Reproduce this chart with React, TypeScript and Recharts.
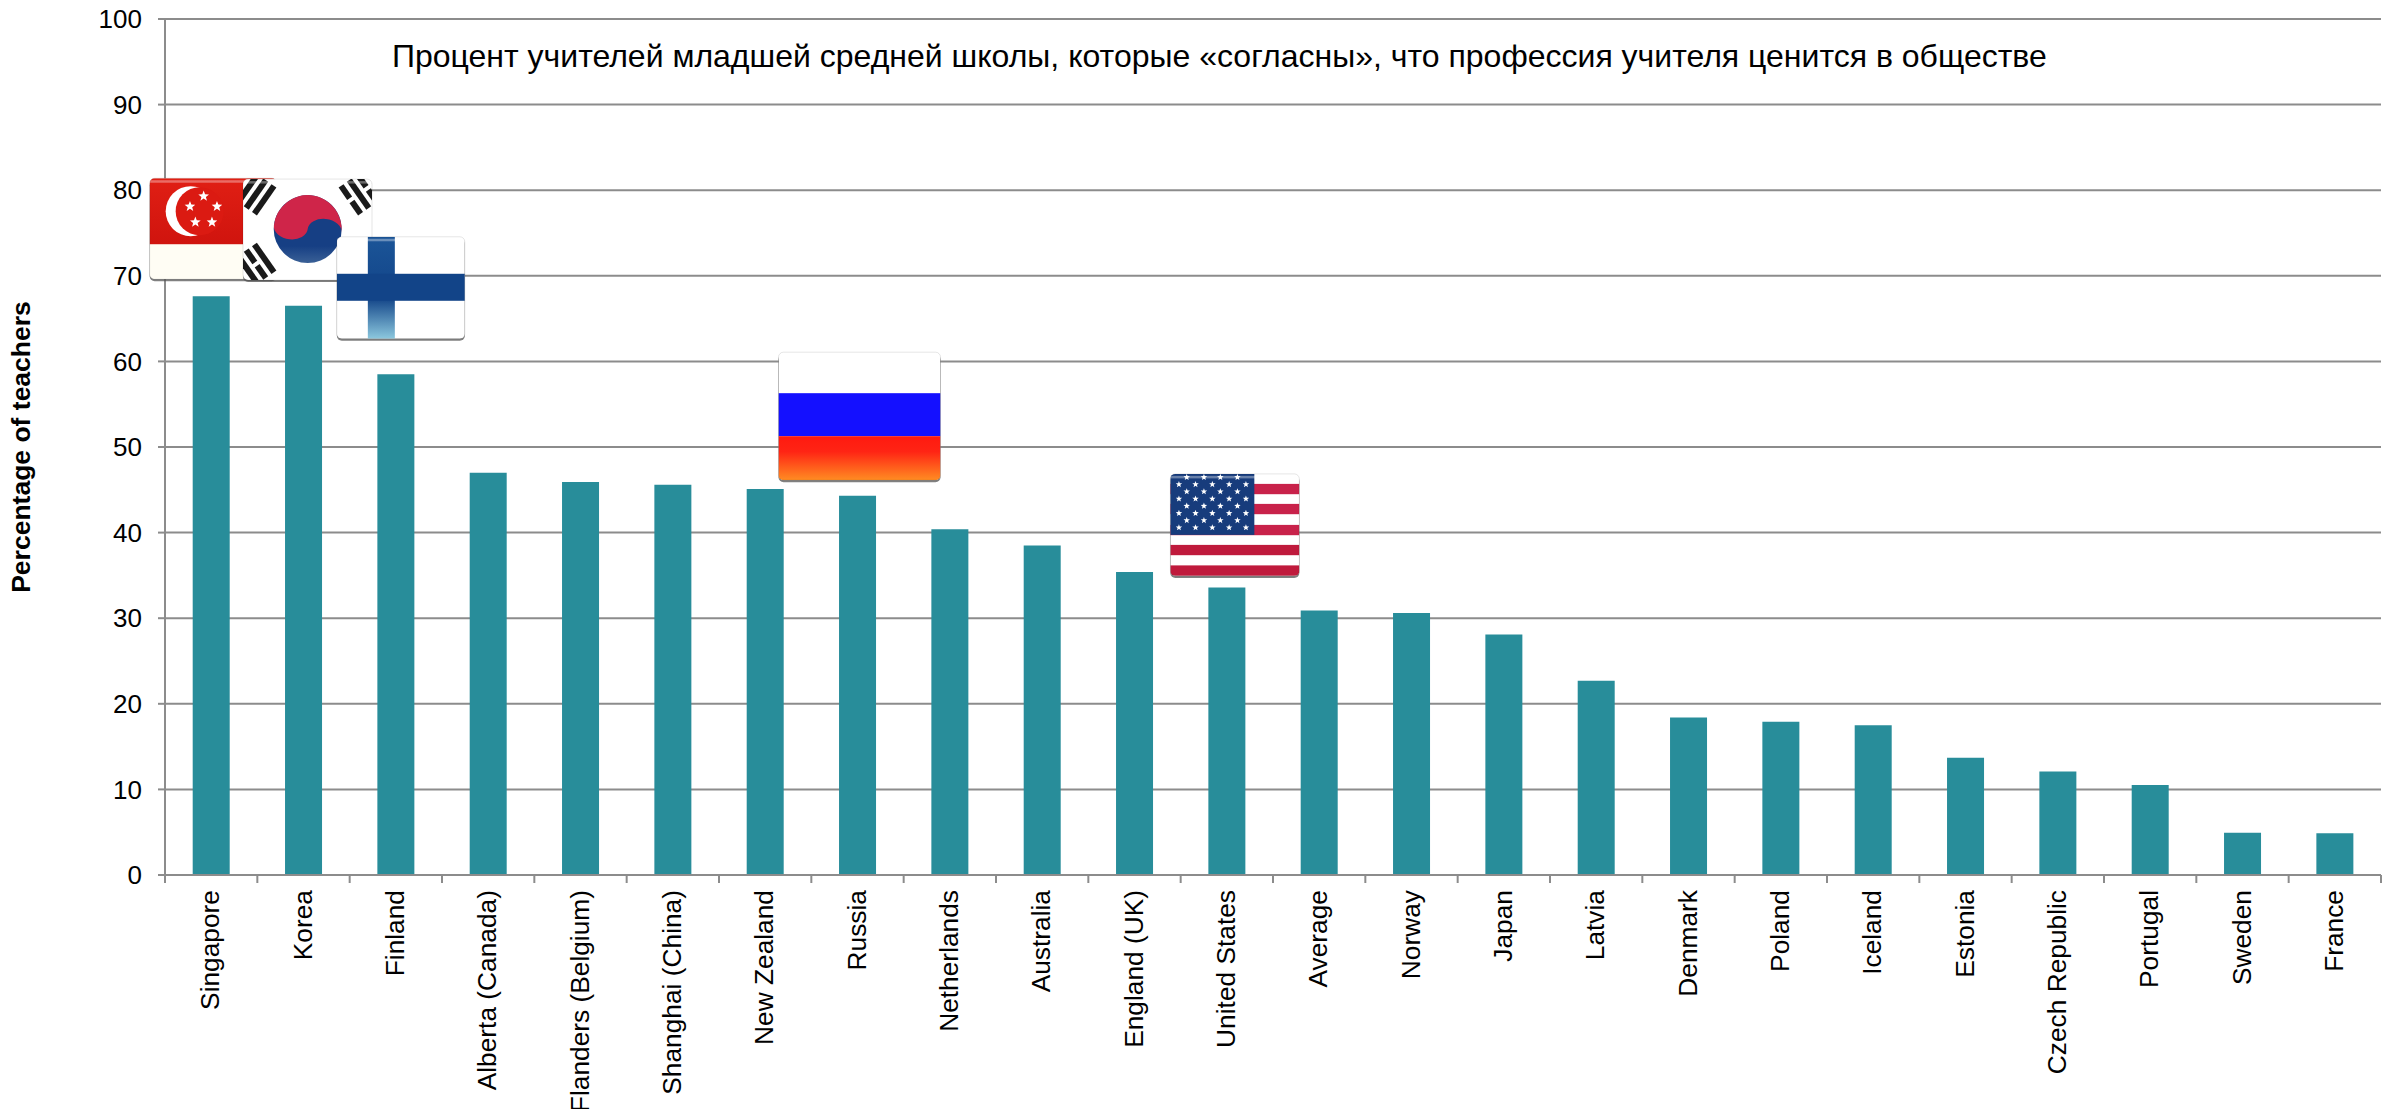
import React from "react";
import { BarChart, Bar, XAxis, YAxis, CartesianGrid, ReferenceDot, Label } from "recharts";

const CATEGORIES = ["Singapore","Korea","Finland","Alberta (Canada)","Flanders (Belgium)","Shanghai (China)","New Zealand","Russia","Netherlands","Australia","England (UK)","United States","Average","Norway","Japan","Latvia","Denmark","Poland","Iceland","Estonia","Czech Republic","Portugal","Sweden","France"];
const VALUES = [67.6,66.5,58.5,47.0,45.9,45.6,45.1,44.3,40.4,38.5,35.4,33.6,30.9,30.6,28.1,22.7,18.4,17.9,17.5,13.7,12.1,10.5,4.95,4.87];
const Y_TICKS = [0,10,20,30,40,50,60,70,80,90,100];
const TITLE = "Процент учителей младшей средней школы, которые «согласны», что профессия учителя ценится в обществе";
const Y_LABEL = "Percentage of teachers";

const FLAG_ANCHORS = [
  { country: "Singapore", y: 75.5 },
  { country: "Korea", y: 75.4 },
  { country: "Finland", y: 68.6 },
  { country: "Russia", y: 53.6 },
  { country: "United States", y: 40.9 },
];

const rows = CATEGORIES.map((name, i) => ({ name, value: VALUES[i] }));

const W = 2397, H = 1117;
const LEFT = 165, RIGHT = 16, TOP = 19, BOTTOM = 242;
const BAND = (W - LEFT - RIGHT) / CATEGORIES.length;
const AXIS = "#8c8c8c";
const FONT = "'Liberation Sans', Arial, sans-serif";

function starPoints(cx: number, cy: number, r: number) {
  const p: string[] = [];
  for (let i = 0; i < 10; i++) {
    const a = -Math.PI / 2 + (i * Math.PI) / 5;
    const rr = i % 2 ? r * 0.42 : r;
    p.push(`${(cx + rr * Math.cos(a)).toFixed(2)},${(cy + rr * Math.sin(a)).toFixed(2)}`);
  }
  return p.join(" ");
}

function Frame({ id, w, h, children }: any) {
  return (
    <g>
      <rect x={0} y={2} width={w} height={h} rx={5} fill="#555" opacity={0.75} />
      <clipPath id={id}><rect width={w} height={h} rx={5} /></clipPath>
      <g clipPath={`url(#${id})`}>
        {children}
        <rect x={0} y={2} width={w} height={2.5} fill="#fff" opacity={0.35} />
      </g>
      <rect x={0} y={0} width={w} height={h} rx={5} fill="none" stroke="#000" strokeOpacity={0.1} strokeWidth={1} />
    </g>
  );
}

function Singapore() {
  return (
    <Frame id="clipSg" w={127} h={101}>
      <defs>
        <linearGradient id="sgRed" x1="0" y1="0" x2="0" y2="1">
          <stop offset="0" stopColor="#E01F14" /><stop offset="1" stopColor="#D0140E" />
        </linearGradient>
      </defs>
      <rect width={127} height={101} fill="#FFFDF4" />
      <rect width={127} height={66} fill="url(#sgRed)" />
      <circle cx={41} cy={33} r={25} fill="#fff" />
      <circle cx={50} cy={33} r={24} fill="#DB1A12" />
      {[[54,18],[40.3,28.3],[67.3,28.3],[45.7,44],[62.3,44]].map(([x,y],i)=>(
        <polygon key={i} points={starPoints(x,y,5.6)} fill="#fff" />
      ))}
    </Frame>
  );
}

function Trigram({ x, y, rot, breaks }: any) {
  const t = 6, gap = 4, len = 34;
  return (
    <g transform={`translate(${x} ${y}) rotate(${rot})`} fill="#1a1a1a">
      {breaks.map((b: boolean, i: number) => {
        const yy = -t * 1.5 - gap + i * (t + gap);
        return b ? (
          <g key={i}>
            <rect x={-len/2} y={yy} width={len/2 - 2} height={t} />
            <rect x={2} y={yy} width={len/2 - 2} height={t} />
          </g>
        ) : <rect key={i} x={-len/2} y={yy} width={len} height={t} />;
      })}
    </g>
  );
}

function Korea() {
  return (
    <Frame id="clipKr" w={129} h={101}>
      <defs>
        <linearGradient id="krBlue" x1="0" y1="0" x2="0" y2="1">
          <stop offset="0.75" stopColor="#163F84" /><stop offset="1" stopColor="#3A6096" />
        </linearGradient>
      </defs>
      <rect width={129} height={101} fill="#fff" />
      <Trigram x={13} y={15} rot={-55} breaks={[false,false,false]} />
      <Trigram x={116} y={15} rot={55} breaks={[true,false,true]} />
      <Trigram x={13} y={85} rot={55} breaks={[false,true,false]} />
      <Trigram x={116} y={85} rot={-55} breaks={[true,true,true]} />
      <circle cx={64.7} cy={50} r={34} fill="url(#krBlue)" />
      <path transform="translate(64.7 50) rotate(6)" d="M-34,0 A34,34 0 0 1 34,0 A17,12 0 0 0 0,0 A17,12 0 0 1 -34,0 Z" fill="#CF2549" />
    </Frame>
  );
}

function Finland() {
  return (
    <Frame id="clipFi" w={128} h={102}>
      <defs>
        <linearGradient id="fiCross" x1="0" y1="0" x2="0" y2="1">
          <stop offset="0" stopColor="#1B5598" /><stop offset="0.6" stopColor="#124488" /><stop offset="1" stopColor="#8CC8DE" />
        </linearGradient>
      </defs>
      <rect width={128} height={102} fill="#fff" />
      <rect x={31} width={27} height={102} fill="url(#fiCross)" />
      <rect y={37} width={128} height={27} fill="#124488" />
    </Frame>
  );
}

function Russia() {
  return (
    <Frame id="clipRu" w={162} h={128}>
      <defs>
        <linearGradient id="ruRed" x1="0" y1="0" x2="0" y2="1">
          <stop offset="0" stopColor="#FF1A10" /><stop offset="0.35" stopColor="#FF2414" /><stop offset="1" stopColor="#FF8C22" />
        </linearGradient>
      </defs>
      <rect width={162} height={128} fill="#fff" />
      <rect y={41} width={162} height={43} fill="#1410FF" />
      <rect y={84} width={162} height={44} fill="url(#ruRed)" />
    </Frame>
  );
}

function Usa() {
  const rowsA = [8.6,25.2,42,58.8,75.6];
  const rowsB = [16.4,33.6,50,67.1];
  const stars: React.ReactNode[] = [];
  for (let r = 0; r < 8; r++) {
    const y = 3.3 + r * 7.2;
    (r % 2 ? rowsA : rowsB).forEach((x, i) =>
      stars.push(<polygon key={`${r}-${i}`} points={starPoints(x, y, 3.4)} fill="#fff" />)
    );
  }
  return (
    <Frame id="clipUs" w={129} h={102}>
      <rect width={129} height={102} fill="#fff" />
      {[10,30,51,71,91.5].map((y,i)=>(
        <rect key={i} y={y} width={129} height={10.3} fill={i < 3 ? "#C8224A" : "#BF1A3C"} />
      ))}
      <rect width={84} height={61} fill="#173C7C" />
      {stars}
    </Frame>
  );
}

const FLAG_ART: Record<string, { Art: any; w: number; h: number; dx: number }> = {
  Singapore: { Art: Singapore, w: 127, h: 101, dx: 2 },
  Korea: { Art: Korea, w: 129, h: 101, dx: 4 },
  Finland: { Art: Finland, w: 128, h: 102, dx: 5 },
  Russia: { Art: Russia, w: 162, h: 128, dx: 2 },
  "United States": { Art: Usa, w: 129, h: 102, dx: 8 },
};

function flagShape(country: string) {
  const { Art, w, h, dx } = FLAG_ART[country];
  return (p: any) => (
    <g transform={`translate(${p.cx + dx - w / 2} ${p.cy - h / 2})`}>
      <Art />
    </g>
  );
}

function XTick(props: any) {
  const { x, payload, index } = props;
  const i = payload?.index ?? index ?? 0;
  const last = i === CATEGORIES.length - 1;
  return (
    <g>
      <line x1={x - BAND / 2} x2={x - BAND / 2} y1={H - BOTTOM} y2={H - BOTTOM + 8} stroke={AXIS} strokeWidth={2} />
      {last && <line x1={x + BAND / 2} x2={x + BAND / 2} y1={H - BOTTOM} y2={H - BOTTOM + 8} stroke={AXIS} strokeWidth={2} />}
      <text
        x={x + 8}
        y={H - BOTTOM + 15}
        textAnchor="end"
        transform={`rotate(-90 ${x + 8} ${H - BOTTOM + 15})`}
        fontFamily={FONT}
        fontSize={26.3}
        fill="#000"
      >
        {payload.value}
      </text>
    </g>
  );
}

export default function App() {
  return (
    <div style={{ width: W, height: H, margin: -8, background: "#fff", overflow: "hidden" }}>
      <BarChart width={W} height={H} data={rows} margin={{ top: TOP, right: RIGHT, bottom: 0, left: 0 }} barCategoryGap="30%">
        <CartesianGrid vertical={false} stroke={AXIS} strokeWidth={2} />
        <XAxis dataKey="name" type="category" interval={0} height={BOTTOM} tickLine={false} tick={<XTick />} stroke={AXIS} axisLine={{ stroke: AXIS, strokeWidth: 2 }} />
        <YAxis
          type="number"
          domain={[0, 100]}
          ticks={Y_TICKS}
          width={LEFT}
          interval={0}
          tickSize={7}
          tickMargin={16}
          axisLine={{ stroke: AXIS, strokeWidth: 2 }}
          tickLine={{ stroke: AXIS, strokeWidth: 2 }}
          tick={{ fontFamily: FONT, fontSize: 26, fill: "#000" }}
        >
          <Label value={Y_LABEL} angle={-90} position="insideLeft" offset={21} style={{ textAnchor: "middle", fontFamily: FONT, fontSize: 26.5, fontWeight: 700, fill: "#000" }} />
        </YAxis>
        <Bar dataKey="value" fill="#288D9A" isAnimationActive={false} />
        {FLAG_ANCHORS.map((f) => (
          <ReferenceDot key={f.country} x={f.country} y={f.y} ifOverflow="visible" shape={flagShape(f.country)} />
        ))}
        <text x={392} y={67} fontFamily={FONT} fontSize={32} fill="#000">{TITLE}</text>
      </BarChart>
    </div>
  );
}
